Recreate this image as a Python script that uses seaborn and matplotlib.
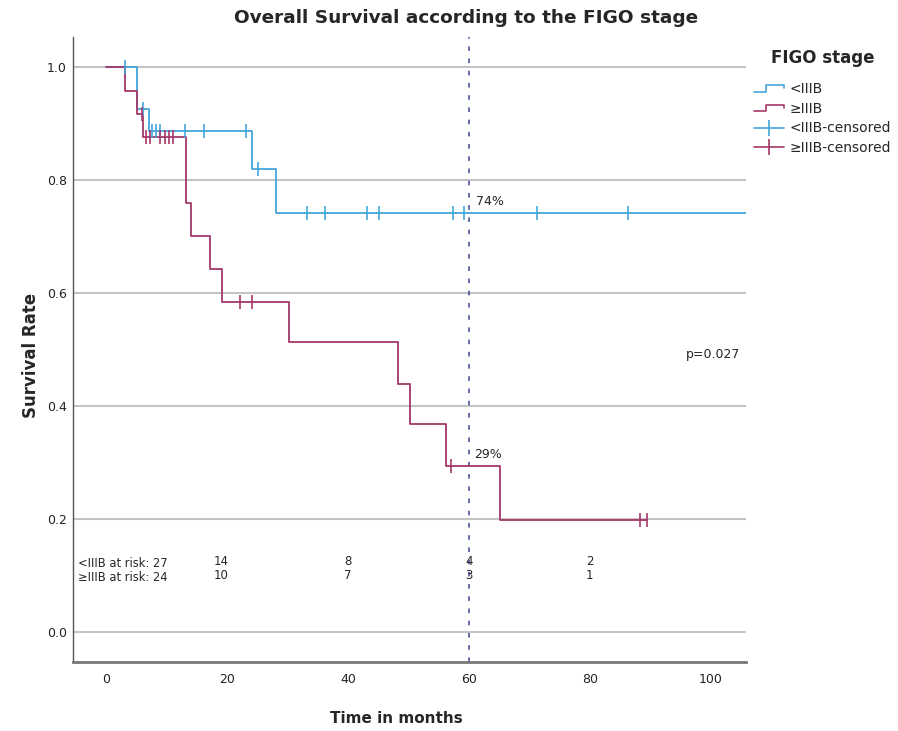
import numpy as np
import pandas as pd
import matplotlib
matplotlib.use("Agg")
import matplotlib.pyplot as plt
import seaborn as sns
from matplotlib.lines import Line2D
from matplotlib.legend_handler import HandlerBase

# Kaplan-Meier steps
blue_time = [0, 5.2, 7.1, 24.2, 28.1, 108]
blue_surv = [1.0, 0.926, 0.886, 0.819, 0.741, 0.741]
blue_cens = [3.1, 6.2, 7.6, 8.3, 9.0, 13.1, 16.2, 23.2, 25.2, 33.2, 36.2,
             43.2, 45.2, 57.3, 59.2, 71.3, 86.3]

red_time = [0, 3.1, 5.2, 6.1, 13.2, 14.1, 17.2, 19.2, 30.2, 48.3, 50.2,
            56.2, 65.2, 89.5]
red_surv = [1.0, 0.958, 0.917, 0.875, 0.759, 0.700, 0.642, 0.583, 0.513,
            0.439, 0.367, 0.293, 0.197, 0.197]
red_cens = [6.0, 6.6, 7.3, 9.0, 9.7, 10.4, 11.1, 22.1, 24.1, 57.1, 88.3, 89.4]

groups = ["<IIIB", "\u2265IIIB"]
risk_times = [19, 40, 60, 80]
risk_blue = [14, 8, 4, 2]
risk_red = [10, 7, 3, 1]
risk_start = [27, 24]
landmark = 60
landmark_pct = ["74%", "29%"]
p_text = "p=0.027"

blue_col = "#45a5da"
red_col = "#a5386a"

sns.set_theme(style="white")
plt.rcParams["font.family"] = ["DejaVu Sans"]


def surv_at(times, survs, t):
    i = np.searchsorted(times, t, side="right") - 1
    return survs[i]


steps = pd.concat([
    pd.DataFrame({"time": blue_time, "surv": blue_surv, "group": groups[0]}),
    pd.DataFrame({"time": red_time, "surv": red_surv, "group": groups[1]}),
])
cens = pd.concat([
    pd.DataFrame({"time": blue_cens,
                  "surv": [surv_at(blue_time, blue_surv, t) for t in blue_cens],
                  "group": groups[0]}),
    pd.DataFrame({"time": red_cens,
                  "surv": [surv_at(red_time, red_surv, t) for t in red_cens],
                  "group": groups[1]}),
])
palette = {groups[0]: blue_col, groups[1]: red_col}

fig = plt.figure(figsize=(8.98, 7.31), dpi=100)
ax = fig.add_axes([0.0816, 0.0944, 0.749, 0.855])

for y in np.arange(0, 1.01, 0.2):
    ax.axhline(y, color="#c4c4c4", lw=1.5, zorder=0)
ax.axvline(landmark, color="#3a4494", lw=1.1, ls=(0, (3, 5)), zorder=1)

sns.lineplot(data=steps, x="time", y="surv", hue="group", palette=palette,
             drawstyle="steps-post", estimator=None, sort=False, lw=1.3,
             legend=False, ax=ax, zorder=3)
for g in groups:
    sub = cens[cens["group"] == g]
    ax.plot(sub["time"], sub["surv"], ls="none", marker="|", ms=10, mew=1.2,
            color=palette[g], zorder=4)

ax.set_xlim(-5.4, 105.8)
ax.set_ylim(-0.054, 1.053)
ax.set_xticks([0, 20, 40, 60, 80, 100])
ax.set_yticks([0, 0.2, 0.4, 0.6, 0.8, 1.0])
ax.set_yticklabels([f"{v:.1f}" for v in [0, 0.2, 0.4, 0.6, 0.8, 1.0]])
ax.tick_params(axis="x", length=0, labelsize=9, pad=8, colors="#222222")
ax.tick_params(axis="y", length=0, labelsize=9, pad=4.5, colors="#222222")
for s in ["top", "right"]:
    ax.spines[s].set_visible(False)
ax.spines["left"].set_color("#555555")
ax.spines["left"].set_linewidth(1.0)
ax.spines["bottom"].set_color("#777777")
ax.spines["bottom"].set_linewidth(2.0)

ax.set_xlabel("Time in months", fontsize=11, fontweight="bold")
ax.set_ylabel("Survival Rate", fontsize=12, fontweight="bold")
ax.xaxis.set_label_coords(0.481, -0.079)
ax.yaxis.set_label_coords(-0.05, 0.491)

fig.text(0.519, 0.975, "Overall Survival according to the FIGO stage",
         ha="center", va="center", fontsize=13.3, fontweight="bold")

ax.text(landmark + 1.2, 0.761, landmark_pct[0], fontsize=9, va="center")
ax.text(landmark + 0.8, 0.313, landmark_pct[1], fontsize=9, va="center")
ax.text(95.9, 0.49, p_text, fontsize=9, va="center")

ax.text(-4.6, 0.121, f"{groups[0]} at risk: {risk_start[0]}", fontsize=8.3, va="center")
ax.text(-4.6, 0.096, f"{groups[1]} at risk: {risk_start[1]}", fontsize=8.3, va="center")
for t, nb, nr in zip(risk_times, risk_blue, risk_red):
    ax.text(t, 0.124, str(nb), fontsize=8.5, ha="center", va="center")
    ax.text(t, 0.099, str(nr), fontsize=8.5, ha="center", va="center")


class StepHandler(HandlerBase):
    def create_artists(self, legend, orig, xd, yd, w, h, fontsize, trans):
        xs = [xd, xd + 0.4 * w, xd + 0.4 * w, xd + w, xd + w]
        ys = [yd + 0.15 * h, yd + 0.15 * h, yd + 0.85 * h, yd + 0.85 * h, yd + 0.5 * h]
        ln = Line2D(xs, ys, color=orig.get_color(), lw=1.2, transform=trans)
        return [ln]


handles = [
    Line2D([], [], color=blue_col),
    Line2D([], [], color=red_col),
    Line2D([], [], color=blue_col, marker="|", ms=11, mew=1.2, lw=1.2),
    Line2D([], [], color=red_col, marker="|", ms=11, mew=1.2, lw=1.2),
]
labels = [groups[0], groups[1], groups[0] + "-censored", groups[1] + "-censored"]
fig.text(823 / 898, 1 - 58 / 731, "FIGO stage", ha="center", va="center",
         fontsize=12, fontweight="bold")
leg = fig.legend(handles, labels, loc="upper left",
                 bbox_to_anchor=(0.833, 0.895), frameon=False,
                 fontsize=10, handlelength=2.2,
                 handletextpad=0.4, labelspacing=0.4, borderaxespad=0,
                 handler_map={handles[0]: StepHandler(), handles[1]: StepHandler()})

fig.savefig("out.png", dpi=100)
